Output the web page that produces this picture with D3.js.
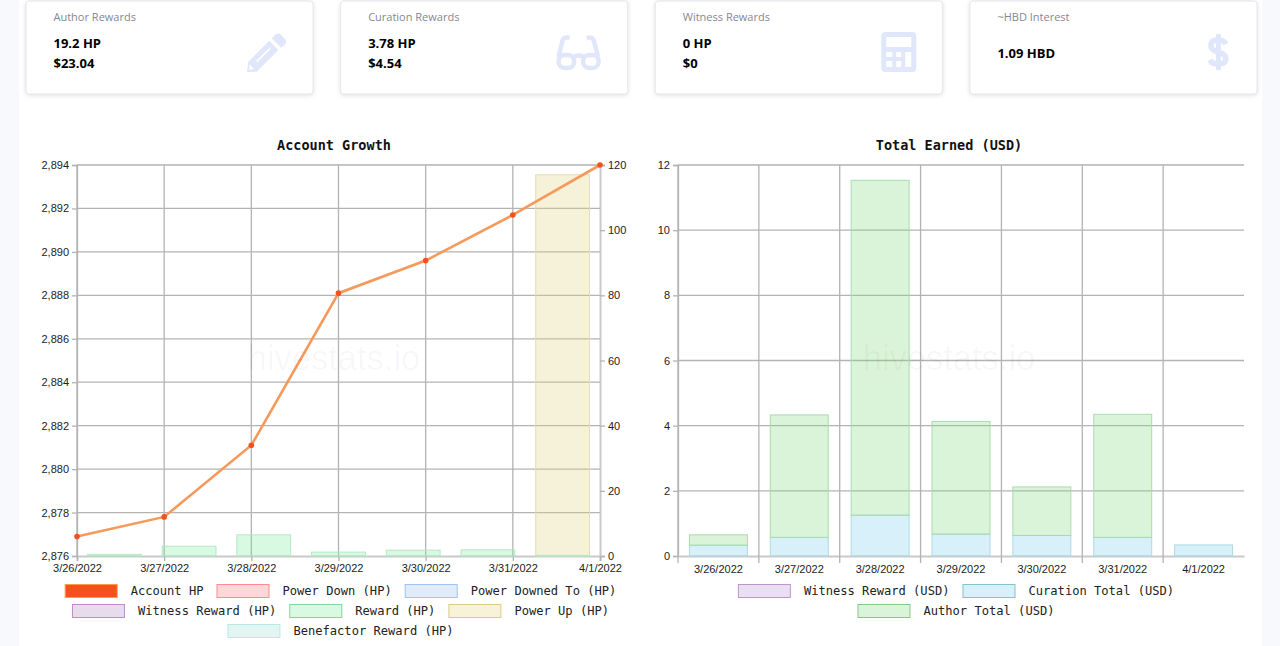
<!DOCTYPE html>
<html>
<head>
<meta charset="utf-8">
<script src="https://cdn.jsdelivr.net/npm/d3@7"></script>
<style>
  html, body { margin: 0; padding: 0; background: #f8f9fc; overflow: hidden; }
  svg { display: block; }
  .tick text { font-family: "Liberation Sans", Arial, sans-serif; font-size: 11px; fill: #222; }
  .tick line, .domain { stroke: #b3b3b3; stroke-width: 1.3; }
  .soft .domain { stroke: #c9c9c9; stroke-width: 2; }
  .title { font-family: "DejaVu Sans Mono", monospace; font-weight: bold; font-size: 13.5px; fill: #111; text-anchor: middle; }
  .legend text { font-family: "DejaVu Sans Mono", monospace; font-size: 12.1px; fill: #222; }
  .card-label { font-family: "Open Sans", sans-serif; font-size: 11px; fill: #858796; }
  .card-value { font-family: "Open Sans", sans-serif; font-size: 13px; font-weight: 700; fill: #000; }
  .watermark { font-family: "Liberation Sans", sans-serif; font-size: 34.5px; fill: rgba(0,0,0,.035); text-anchor: middle; }
</style>
</head>
<body>
<svg id="page" width="1280" height="646"></svg>
<script>
var days = ['3/26/2022', '3/27/2022', '3/28/2022', '3/29/2022', '3/30/2022', '3/31/2022', '4/1/2022']

var accountHp = [2876.9, 2877.8, 2881.1, 2888.1, 2889.6, 2891.7, 2894]
var rewardHp = [0.5, 3, 6.5, 1.2, 1.8, 1.9, 0.2]
var powerUpHp = [0, 0, 0, 0, 0, 0, 117]

var curationUsd = [0.33, 0.57, 1.25, 0.67, 0.63, 0.57, 0.34]
var authorUsd = [0.32, 3.76, 10.28, 3.46, 1.49, 3.78, 0]

var cardTitles = ['Author Rewards', 'Curation Rewards', 'Witness Rewards', '~HBD Interest']
var cardValues = [['19.2 HP', '$23.04'], ['3.78 HP', '$4.54'], ['0 HP', '$0'], ['1.09 HBD']]

var growthLegend = [
  [['Account HP', '#f4511e', '#ff9e40'], ['Power Down (HP)', '#ffd6d9', '#ff8a90'], ['Power Downed To (HP)', '#e1ebfb', '#9cc4f5']],
  [['Witness Reward (HP)', '#e8dcec', '#bb8ec9'], ['Reward (HP)', '#d8f9e2', '#7fd79b'], ['Power Up (HP)', '#f7f3d9', '#dccb86']],
  [['Benefactor Reward (HP)', '#e2f5f3', '#b5ebe6']]
]
var earnedLegend = [
  [['Witness Reward (USD)', '#eadff0', '#c095cc'], ['Curation Total (USD)', '#d7f0fa', '#7fc5cc']],
  [['Author Total (USD)', '#daf4d9', '#85c98b']]
]

var svg = d3.select('#page')

svg.append('rect').attr('x', 19).attr('y', 0).attr('width', 1243).attr('height', 646).attr('fill', '#fff')

// top cards
var cardX = d3.scaleBand().domain(d3.range(4)).range([26, 1257]).paddingInner(0.0875)
var cards = svg.selectAll('.card').data(cardTitles).enter().append('g')
  .attr('class', 'card')
  .attr('transform', function (d, i) { return 'translate(' + cardX(i) + ',1)' })

cards.append('rect')
  .attr('width', cardX.bandwidth()).attr('height', 93).attr('rx', 3)
  .attr('fill', '#fff').attr('stroke', '#e6e7ec')
  .style('filter', 'drop-shadow(0 1px 2px rgba(60,60,80,.16))')

cards.append('text').attr('class', 'card-label').attr('x', 27.5).attr('y', 20).text(function (d) { return d })

cards.each(function (d, i) {
  var vals = cardValues[i]
  var g = d3.select(this)
  vals.forEach(function (v, j) {
    g.append('text').attr('class', 'card-value').attr('x', 27.5)
      .attr('y', vals.length === 1 ? 57 : 47 + j * 20).text(v)
  })
  var ic = g.append('g').attr('transform', 'translate(' + (i === 3 ? 238 : 221) + ',31)').attr('fill', '#e0e7fb')
  if (i === 0) {
    ic.append('path').attr('d', 'M0 40 L1.3 29.7 L22.3 8.7 L31.3 18 L9.7 39.7 Z')
    ic.append('path').attr('d', 'M24.7 6.3 L28.5 2.5 Q31 0.5 33.5 2.5 L38.5 7.5 Q40 10 38 12.5 L34 15.7 Z')
    ic.append('path').attr('d', 'M9.7 29.7 L23 16.3').attr('stroke', '#fff').attr('stroke-width', 1.8)
    ic.append('path').attr('d', 'M2.5 32.5 L7 37 L2.2 38 Z').attr('fill', '#fff')
  } else if (i === 1) {
    ic.attr('transform', 'translate(215,31)')
    var lens = ic.append('g').attr('fill', 'none').attr('stroke', '#e0e7fb').attr('stroke-width', 4.5)
    lens.append('path').attr('d', 'M14 6 Q9 4.5 7 8 L2.8 25 M31 6 Q36 4.5 38 8 L42.5 25 M17 25 Q23 22 29 25')
    lens.append('rect').attr('x', 3).attr('y', 23).attr('width', 15.5).attr('height', 13).attr('rx', 6)
    lens.append('rect').attr('x', 27.5).attr('y', 23).attr('width', 15.5).attr('height', 13).attr('rx', 6)
  } else if (i === 2) {
    ic.attr('transform', 'translate(226,31)')
    ic.append('path').attr('fill-rule', 'evenodd')
      .attr('d', 'M4 0 H31 Q35 0 35 4 V36 Q35 40 31 40 H4 Q0 40 0 36 V4 Q0 0 4 0 Z M5 5 V15 H30 V5 Z M5 20 V25 H11 V20 Z M15 20 V25 H20 V20 Z M24 20 V35 H30 V20 Z M5 29 V35 H11 V29 Z M15 29 V35 H20 V29 Z')
  } else {
    ic.append('path').attr('fill', 'none').attr('stroke', '#e0e7fb').attr('stroke-width', 5.5)
      .attr('d', 'M18 12 Q16 8 10 8 Q3 8 3 13.5 Q3 18 10 20 Q18 22 18 27 Q18 32 10 32 Q4 32 2 28')
    ic.append('path').attr('fill', 'none').attr('stroke', '#e0e7fb').attr('stroke-width', 5)
      .attr('d', 'M10.5 2 V38')
  }
})

function drawLegend(rows, cx) {
  rows.forEach(function (row, r) {
    var g = svg.append('g').attr('class', 'legend')
    var x = 0
    row.forEach(function (item) {
      g.append('rect').attr('x', x + 0.5).attr('y', -6.5).attr('width', 52).attr('height', 13)
        .attr('fill', item[1]).attr('stroke', item[2])
      var t = g.append('text').attr('x', x + 66).attr('y', 4).text(item[0])
      x += 66 + t.node().getComputedTextLength() + 13
    })
    x -= 13
    g.attr('transform', 'translate(' + (cx - x / 2) + ',' + (591 + r * 20) + ')')
  })
}

var plotTop = 165, plotBottom = 556

// Account Growth
var gx = d3.scalePoint().domain(days).range([77, 600])
var gBand = d3.scaleBand().domain(days).range([77, 600]).paddingInner(0.28).paddingOuter(0.14)
var gy = d3.scaleLinear().domain([2876, 2894]).range([plotBottom, plotTop])
var gyRight = d3.scaleLinear().domain([0, 120]).range([plotBottom, plotTop])

svg.append('g').attr('transform', 'translate(77,0)')
  .call(d3.axisLeft(gy).tickValues(d3.range(2876, 2895, 2)).tickSize(5).tickFormat(d3.format(',')))
svg.append('g').attr('class', 'soft').attr('transform', 'translate(600,0)')
  .call(d3.axisRight(gyRight).tickValues(d3.range(0, 121, 20)).tickSize(5))
svg.append('g').attr('class', 'soft').attr('transform', 'translate(0,' + plotBottom + ')')
  .call(d3.axisBottom(gx).tickSize(5).tickPadding(3))

svg.append('g').selectAll('line').data(d3.range(2878, 2895, 2)).enter().append('line')
  .attr('x1', 77).attr('x2', 600).attr('y1', gy).attr('y2', gy)
  .attr('stroke', '#b3b3b3').attr('stroke-width', 1.3)
svg.append('g').selectAll('line').data(days.slice(0, 6)).enter().append('line')
  .attr('x1', gx).attr('x2', gx).attr('y1', plotTop).attr('y2', plotBottom)
  .attr('stroke', '#b3b3b3').attr('stroke-width', 1.3)

function hpBars(values, fill, stroke) {
  svg.append('g').selectAll('rect').data(values).enter().append('rect')
    .attr('x', function (d, i) { return gBand(days[i]) })
    .attr('width', gBand.bandwidth())
    .attr('y', function (d) { return gyRight(d) })
    .attr('height', function (d) { return gyRight(0) - gyRight(d) })
    .attr('fill', fill).attr('stroke', stroke)
    .attr('display', function (d) { return d > 0 ? null : 'none' })
}
hpBars(powerUpHp, 'rgba(225,210,130,.3)', '#e6dcae')
hpBars(rewardHp, 'rgba(125,235,158,.3)', '#b4e8c6')

var line = d3.line()
  .x(function (d, i) { return gx(days[i]) })
  .y(function (d) { return gy(d) })
svg.append('path').attr('d', line(accountHp)).attr('fill', 'none')
  .attr('stroke', '#f59a5b').attr('stroke-width', 2.6)
svg.append('g').selectAll('circle').data(accountHp).enter().append('circle')
  .attr('cx', function (d, i) { return gx(days[i]) })
  .attr('cy', gy).attr('r', 2.8).attr('fill', '#f4511e')

svg.append('text').attr('class', 'watermark').attr('x', 334).attr('y', 370).text('hivestats.io')
svg.append('text').attr('class', 'title').attr('x', 334).attr('y', 150).text('Account Growth')
drawLegend(growthLegend, 340.5)

// Total Earned
var ex = d3.scaleBand().domain(days).range([678, 1244]).paddingInner(0.283).paddingOuter(0.1415)
var ey = d3.scaleLinear().domain([0, 12]).range([plotBottom, plotTop])
var step = ex.step()

svg.append('g').attr('transform', 'translate(678,0)')
  .call(d3.axisLeft(ey).tickValues(d3.range(0, 13, 2)).tickSize(5))
var exAxis = svg.append('g').attr('class', 'soft').attr('transform', 'translate(0,' + plotBottom + ')')
  .call(d3.axisBottom(ex).tickSize(0).tickPadding(9))
exAxis.selectAll('.tick').append('line')
  .attr('x1', -step / 2).attr('x2', -step / 2).attr('y2', 7)

svg.append('g').selectAll('line').data(d3.range(2, 13, 2)).enter().append('line')
  .attr('x1', 678).attr('x2', 1244).attr('y1', ey).attr('y2', ey)
  .attr('stroke', '#b3b3b3').attr('stroke-width', 1.3)
svg.append('g').selectAll('line').data(d3.range(7)).enter().append('line')
  .attr('x1', function (d) { return 678 + d * step }).attr('x2', function (d) { return 678 + d * step })
  .attr('y1', plotTop).attr('y2', plotBottom)
  .attr('stroke', '#b3b3b3').attr('stroke-width', 1.3)

var stackRows = days.map(function (d, i) { return { day: d, curation: curationUsd[i], author: authorUsd[i] } })
var stacked = d3.stack().keys(['curation', 'author'])(stackRows)
var usdFill = { curation: 'rgba(122,205,238,.3)', author: 'rgba(132,218,128,.3)' }
var usdStroke = { curation: '#afdbe3', author: '#a9dbb0' }

stacked.forEach(function (s) {
  svg.append('g').selectAll('rect').data(s).enter().append('rect')
    .attr('x', function (d) { return ex(d.data.day) })
    .attr('width', ex.bandwidth())
    .attr('y', function (d) { return ey(d[1]) })
    .attr('height', function (d) { return ey(d[0]) - ey(d[1]) })
    .attr('fill', usdFill[s.key]).attr('stroke', usdStroke[s.key])
    .attr('display', function (d) { return d[1] > d[0] ? null : 'none' })
})

svg.append('text').attr('class', 'watermark').attr('x', 949).attr('y', 370).text('hivestats.io')
svg.append('text').attr('class', 'title').attr('x', 949).attr('y', 150).text('Total Earned (USD)')
drawLegend(earnedLegend, 956)
</script>
</body>
</html>
